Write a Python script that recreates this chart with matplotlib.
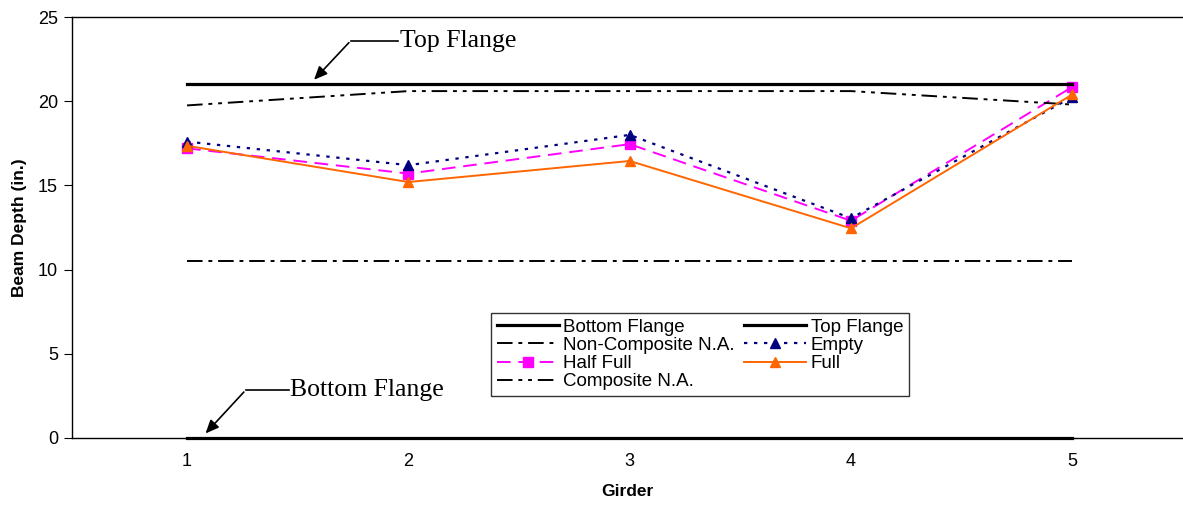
import matplotlib
matplotlib.use("Agg")
import matplotlib.pyplot as plt

girders = [1, 2, 3, 4, 5]
bottom_flange = [0, 0, 0, 0, 0]
top_flange = [21, 21, 21, 21, 21]
non_composite_na = [10.5, 10.5, 10.5, 10.5, 10.5]
composite_na = [19.75, 20.6, 20.6, 20.6, 19.8]
empty = [17.6, 16.2, 18.0, 13.05, 20.25]
half_full = [17.2, 15.7, 17.45, 12.9, 20.85]
full = [17.35, 15.2, 16.45, 12.45, 20.4]

plt.rcParams['font.family'] = ['Liberation Sans', 'DejaVu Sans']

fig = plt.figure(figsize=(11.83, 5.12), dpi=100)
ax = fig.add_axes([72/1183, 74/512, 1 - 72/1183, (438-17)/512])

ax.plot(girders, bottom_flange, color='black', lw=2.3, label='Bottom Flange', zorder=3, clip_on=False)
ax.plot(girders, non_composite_na, color='black', lw=1.4, dashes=[8, 3, 2, 3], label='Non-Composite N.A.')
ax.plot(girders, half_full, color='#FF00FF', lw=1.4, dashes=[7, 4], marker='s', ms=7, label='Half Full')
ax.plot(girders, composite_na, color='black', lw=1.4, dashes=[8, 3, 2, 3, 2, 3], label='Composite N.A.')
ax.plot(girders, top_flange, color='black', lw=2.3, label='Top Flange')
ax.plot(girders, empty, color='#000080', lw=1.6, dashes=[1.5, 3], marker='^', ms=7, label='Empty')
ax.plot(girders, full, color='#FF6600', lw=1.4, marker='^', ms=7, label='Full')

ax.set_xlim(0.48, 5.5)
ax.set_ylim(0, 25)
ax.set_xticks(girders)
ax.set_yticks([0, 5, 10, 15, 20, 25])
ax.tick_params(axis='x', length=0, labelsize=13, pad=11)
ax.tick_params(axis='y', length=6, labelsize=13, direction='out', pad=4)
ax.spines['right'].set_visible(False)
for s in ['left', 'top', 'bottom']:
    ax.spines[s].set_linewidth(1.0)

ax.set_ylabel('Beam Depth (in.)', fontsize=12.5, fontweight='bold', labelpad=8)
ax.set_xlabel('Girder', fontsize=12.5, fontweight='bold', labelpad=10)

serif = ['Liberation Serif', 'DejaVu Serif']
# Top Flange annotation
ax.text(1.96, 23.6, 'Top Flange', fontsize=18.5, family=serif, va='center', ha='left')
ax.plot([1.74, 1.955], [23.6, 23.6], color='black', lw=1.2, clip_on=False)
ax.annotate('', xy=(1.565, 21.15), xytext=(1.74, 23.6),
            arrowprops=dict(arrowstyle='-|>,head_length=0.8,head_width=0.35', color='black', lw=1.2))
# Bottom Flange annotation
ax.text(1.465, 2.85, 'Bottom Flange', fontsize=18.5, family=serif, va='center', ha='left')
ax.plot([1.265, 1.46], [2.85, 2.85], color='black', lw=1.2)
ax.annotate('', xy=(1.075, 0.15), xytext=(1.265, 2.85),
            arrowprops=dict(arrowstyle='-|>,head_length=0.8,head_width=0.35', color='black', lw=1.2))

leg = ax.legend(ncol=2, loc='upper left', bbox_to_anchor=((491-72)/1111, (438-313)/421),
                fontsize=13.5, frameon=True, fancybox=False, edgecolor='black',
                handlelength=3.3, handletextpad=0.25, columnspacing=0.5,
                labelspacing=0.06, borderpad=0.3, borderaxespad=0, markerscale=1.0)
leg.get_frame().set_linewidth(1.0)

fig.savefig('out.png', dpi=100)
